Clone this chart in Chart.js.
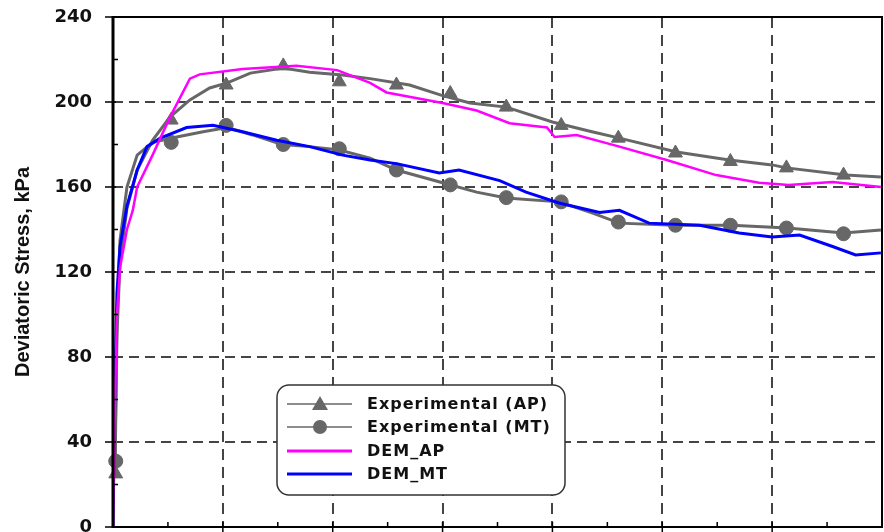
<!DOCTYPE html>
<html>
<head>
<meta charset="utf-8">
<title>Deviatoric Stress</title>
<script src="https://cdn.jsdelivr.net/npm/chart.js@4.4.1/dist/chart.umd.min.js"></script>
<style>
  html, body { margin: 0; padding: 0; background: #fff; }
  #wrap { width: 884px; height: 532px; position: relative; }
</style>
</head>
<body>
<div id="wrap"><canvas id="stressChart" width="884" height="532"></canvas></div>
<script>
// values (x in grid units, y in kPa)
const demApX = [0, 0.018, 0.036, 0.064, 0.127, 0.18, 0.22, 0.36, 0.52, 0.70, 0.79, 1.18, 1.67, 2.04, 2.34, 2.49, 3.0, 3.31, 3.61, 3.95, 4.02, 4.22, 4.61, 5.04, 5.49, 5.88, 6.15, 6.55, 6.99];
const demApY = [0, 60, 100, 122, 140, 149, 160, 175, 193, 211, 213, 215.5, 217, 215, 209, 204.5, 199.5, 196, 190, 188, 183.5, 184.5, 179, 172.7, 165.6, 162, 161, 162.4, 160];

const demMtX = [0, 0.018, 0.036, 0.064, 0.127, 0.22, 0.31, 0.43, 0.67, 0.91, 1.18, 1.49, 1.79, 2.09, 2.34, 2.58, 2.97, 3.15, 3.52, 3.76, 4.06, 4.43, 4.61, 4.88, 5.34, 5.7, 6.0, 6.25, 6.55, 6.76, 6.99];
const demMtY = [0, 70, 110, 132, 151, 168, 179, 183, 188, 189, 186, 182, 179, 175, 172.7, 171, 166.6, 168, 163, 157.6, 152.5, 148, 149, 143, 142, 138.4, 136.5, 137.4, 132, 128, 129];

const expApX = [0.018, 0.036, 0.064, 0.127, 0.22, 0.36, 0.52, 0.70, 0.88, 1.04, 1.25, 1.55, 1.79, 2.09, 2.34, 2.7, 3.0, 3.25, 3.58, 4.0, 4.36, 4.61, 5.13, 5.61, 6.0, 6.13, 6.67, 6.99];
const expApY = [25, 90, 125, 150, 168, 182, 193, 201, 206.6, 209, 213.6, 216, 214, 212.7, 211, 208, 203, 199.5, 197.6, 190.6, 186, 183, 176.5, 172.7, 170.4, 169, 165.6, 164.7];

const expMtX = [0.018, 0.036, 0.064, 0.127, 0.22, 0.36, 0.58, 0.82, 1.04, 1.27, 1.54, 1.79, 2.06, 2.34, 2.58, 3.0, 3.31, 3.58, 4.06, 4.36, 4.61, 5.11, 5.63, 6.14, 6.65, 6.99];
const expMtY = [31, 100, 135, 160, 175, 181, 183.5, 186, 188, 184.5, 180, 179, 177.4, 173.6, 168, 162, 157.6, 154.8, 153, 147.8, 143, 142, 142, 140.7, 138.4, 139.8];

// marker symbols of the experimental curves
const markerX = [0.025, 0.53, 1.03, 1.55, 2.06, 2.58, 3.07, 3.58, 4.08, 4.6, 5.12, 5.62, 6.13, 6.65];
const apMarkerY = [25, 191.5, 208, 217, 209.5, 208, 204, 197.6, 189, 183, 176, 172, 169, 165.6];
const mtMarkerY = [31, 181, 189, 180, 178, 168, 161, 155, 153, 143.5, 142, 142, 140.7, 138];

const yTicks = [0, 40, 80, 120, 160, 200, 240];

const GRAY = '#676767';

function pts(xs, ys) {
  return xs.map((x, i) => ({ x: x, y: ys[i] }));
}

// frame and the small axis tick marks
const framePlugin = {
  id: 'frame',
  afterDraw(chart) {
    const { ctx, chartArea: a, scales } = chart;
    ctx.save();
    ctx.strokeStyle = '#000';
    ctx.lineWidth = 2;
    ctx.beginPath();
    ctx.moveTo(a.left, a.top);
    ctx.lineTo(a.right, a.top);
    ctx.lineTo(a.right, a.bottom);
    ctx.lineTo(a.left, a.bottom);
    ctx.stroke();
    ctx.lineWidth = 3;
    ctx.beginPath();
    ctx.moveTo(a.left, a.top - 1);
    ctx.lineTo(a.left, a.bottom + 1);
    ctx.stroke();

    ctx.lineWidth = 1.5;
    ctx.beginPath();
    for (let v = 0; v <= 240; v += 20) {
      const py = scales.y.getPixelForValue(v);
      if (v % 40 === 0) {
        ctx.moveTo(a.left - 8, py);
        ctx.lineTo(a.left + 3, py);
      } else {
        ctx.moveTo(a.left, py);
        ctx.lineTo(a.left + 5, py);
      }
    }
    for (let v = 0.5; v < 7; v += 0.5) {
      const px = scales.x.getPixelForValue(v);
      if (v % 1 === 0) {
        ctx.moveTo(px, a.bottom - 5);
        ctx.lineTo(px, a.bottom + 6);
      } else {
        ctx.moveTo(px, a.bottom);
        ctx.lineTo(px, a.bottom - 5);
      }
    }
    ctx.stroke();
    ctx.restore();
  }
};

// legend box with line + marker samples
const legendPlugin = {
  id: 'boxLegend',
  afterDraw(chart) {
    const { ctx, chartArea: a } = chart;
    const bx = a.left + 164, by = a.top + 368, bw = 288, bh = 110;
    ctx.save();
    ctx.beginPath();
    ctx.roundRect(bx, by, bw, bh, 12);
    ctx.fillStyle = '#fff';
    ctx.fill();
    ctx.lineWidth = 1.5;
    ctx.strokeStyle = '#333';
    ctx.stroke();

    const rows = [
      { label: 'Experimental (AP)', color: GRAY, width: 1.5, marker: 'triangle' },
      { label: 'Experimental (MT)', color: GRAY, width: 1.5, marker: 'circle' },
      { label: 'DEM_AP', color: '#ff00ff', width: 3, marker: null },
      { label: 'DEM_MT', color: '#0000ff', width: 3, marker: null }
    ];
    const rowY = [19, 42, 66, 89];
    ctx.font = 'bold 16px "DejaVu Sans"';
    ctx.letterSpacing = '1px';
    ctx.textBaseline = 'middle';
    rows.forEach((r, i) => {
      const y = by + rowY[i];
      ctx.strokeStyle = r.color;
      ctx.lineWidth = r.width;
      ctx.beginPath();
      ctx.moveTo(bx + 10, y);
      ctx.lineTo(bx + 75, y);
      ctx.stroke();
      ctx.fillStyle = GRAY;
      if (r.marker === 'triangle') {
        ctx.beginPath();
        ctx.moveTo(bx + 43, y - 8);
        ctx.lineTo(bx + 51, y + 6);
        ctx.lineTo(bx + 35, y + 6);
        ctx.closePath();
        ctx.fill();
      } else if (r.marker === 'circle') {
        ctx.beginPath();
        ctx.arc(bx + 43, y, 7, 0, Math.PI * 2);
        ctx.fill();
      }
      ctx.fillStyle = '#111';
      ctx.fillText(r.label, bx + 90, y + 1);
    });
    ctx.restore();
  }
};

const ctx = document.getElementById('stressChart').getContext('2d');

new Chart(ctx, {
  type: 'scatter',
  data: {
    datasets: [
      { label: 'DEM_AP', data: pts(demApX, demApY), showLine: true, borderColor: '#ff00ff', borderWidth: 2.5, pointRadius: 0, order: 0 },
      { label: 'DEM_MT', data: pts(demMtX, demMtY), showLine: true, borderColor: '#0000ff', borderWidth: 3, pointRadius: 0, order: 1 },
      { label: 'Experimental (AP) markers', data: pts(markerX, apMarkerY), showLine: false, pointStyle: 'triangle', pointRadius: 8, backgroundColor: GRAY, borderColor: GRAY, clip: false, order: 2 },
      { label: 'Experimental (MT) markers', data: pts(markerX, mtMarkerY), showLine: false, pointStyle: 'circle', pointRadius: 7, backgroundColor: GRAY, borderColor: GRAY, clip: false, order: 3 },
      { label: 'Experimental (AP)', data: pts(expApX, expApY), showLine: true, borderColor: GRAY, borderWidth: 3, pointRadius: 0, order: 4 },
      { label: 'Experimental (MT)', data: pts(expMtX, expMtY), showLine: true, borderColor: GRAY, borderWidth: 3, pointRadius: 0, order: 5 }
    ]
  },
  options: {
    responsive: false,
    animation: false,
    layout: { autoPadding: false, padding: { top: 17, right: 2, left: 0, bottom: 0 } },
    plugins: {
      legend: { display: false },
      tooltip: { enabled: false }
    },
    scales: {
      x: {
        type: 'linear',
        min: 0,
        max: 7,
        ticks: { display: false, stepSize: 1, padding: 0, callback: () => '' },
        grid: {
          color: c => (c.tick && c.tick.value > 0 && c.tick.value < 7) ? '#444' : 'transparent',
          lineWidth: 2,
          drawTicks: false
        },
        border: { display: false, dash: [11, 7] },
        afterFit: s => { s.height = 5; }
      },
      y: {
        min: 0,
        max: 240,
        afterBuildTicks: s => { s.ticks = yTicks.map(v => ({ value: v })); },
        ticks: {
          padding: 0,
          color: '#111',
          font: { family: '"DejaVu Sans"', size: 18, weight: 'bold', lineHeight: 0.4 }
        },
        grid: {
          color: c => (c.tick && c.tick.value > 0 && c.tick.value < 240) ? '#444' : 'transparent',
          lineWidth: 2,
          drawTicks: true,
          tickLength: 21,
          tickColor: 'transparent'
        },
        border: { display: false, dash: [10, 6] },
        title: {
          display: true,
          text: 'Deviatoric Stress, kPa',
          color: '#111',
          font: { family: '"Liberation Sans"', size: 20, weight: 'bold', lineHeight: 1 },
          padding: { top: 13, bottom: 0 }
        },
        afterFit: s => { s.width = 113; }
      }
    }
  },
  plugins: [framePlugin, legendPlugin]
});
</script>
</body>
</html>
